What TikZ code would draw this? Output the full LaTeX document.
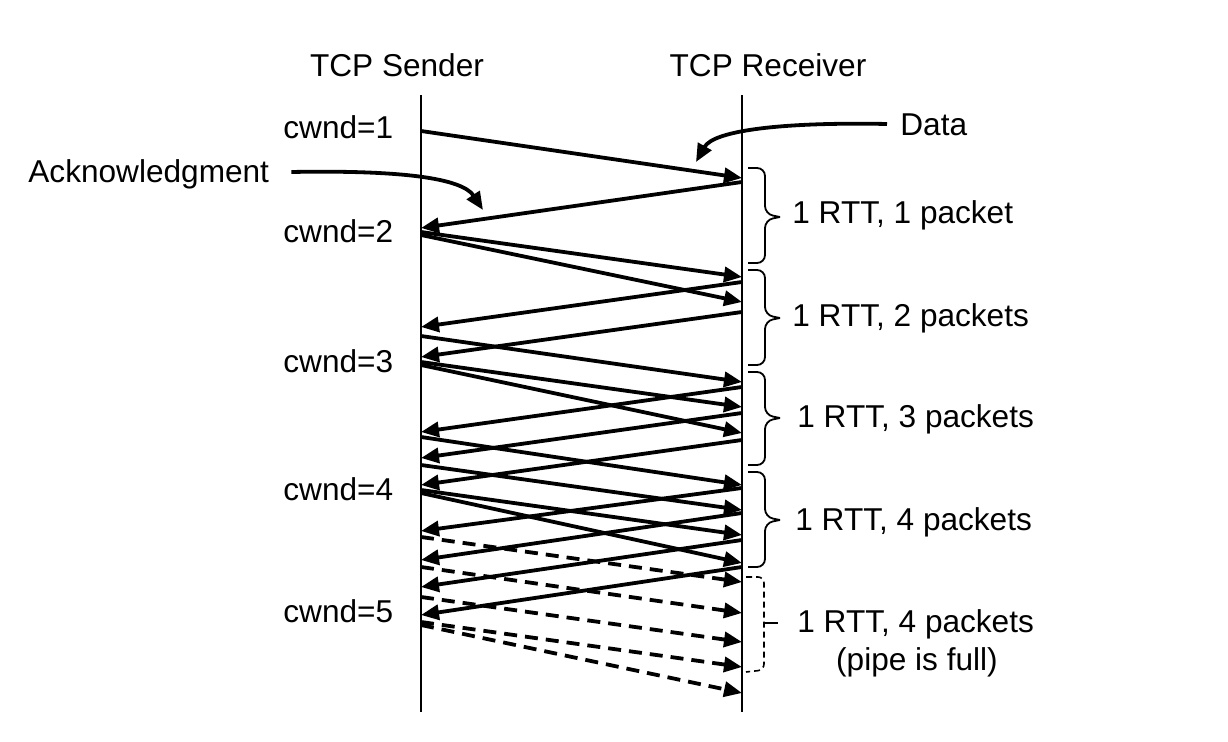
\documentclass[tikz,border=0pt]{standalone}
\usepackage{fontspec}
\setmainfont{Liberation Sans}
\usetikzlibrary{arrows.meta}
\begin{document}
\begin{tikzpicture}[x=0.5pt,y=-0.5pt,
  lifeline/.style={line width=1.2pt},
  msg/.style={line width=1.9pt,-{Triangle[length=9pt,width=7.5pt]}},
  dmsg/.style={msg,dash pattern=on 6.5pt off 4pt},
  curv/.style={line width=1.9pt,-{Triangle[length=9pt,width=7.5pt]}},
  lbl/.style={font=\fontsize{15.8}{18}\selectfont,inner sep=0pt},
  brc/.style={line width=0.9pt,rounded corners=4pt},
  dbrc/.style={line width=0.8pt,dash pattern=on 3pt off 2pt,rounded corners=3pt}]
\useasboundingbox (0,0) rectangle (1228,742);
\fill[white] (0,0) rectangle (1228,742);

% headers
\node[lbl,anchor=base] (snd) at (397,77) {TCP Sender};
\node[lbl,anchor=base] (rcv) at (768,77) {TCP Receiver};

% lifelines
\coordinate (stop) at (421,95);
\coordinate (sbot) at (421,712);
\coordinate (rtop) at (742,95);
\coordinate (rbot) at (742,712);
\draw[lifeline] (stop) -- (sbot);
\draw[lifeline] (rtop) -- (rbot);

% cwnd labels
\node[lbl,anchor=base west] (c1) at (283,139) {cwnd=1};
\node[lbl,anchor=base west] (c2) at (283,243) {cwnd=2};
\node[lbl,anchor=base west] (c3) at (283,373) {cwnd=3};
\node[lbl,anchor=base west] (c4) at (283,501) {cwnd=4};
\node[lbl,anchor=base west] (c5) at (283,623) {cwnd=5};

% data packets (sender -> receiver)
\foreach \a/\b in {131/178,232/277,235/302,336/382,362/407,365/433,437/485,465/510,490/535,493/563}{
  \coordinate (S\a) at (421,\a);
  \coordinate (R\b) at (742,\b);
  \draw[msg] (S\a) -- (R\b);
}
% acknowledgments (receiver -> sender)
\foreach \a/\b in {182/228,282/327,312/357,387/432,413/458,440/485,488/531,513/560,540/587,567/615}{
  \coordinate (R\a) at (742,\a);
  \coordinate (S\b) at (421,\b);
  \draw[msg] (R\a) -- (S\b);
}
% dashed data packets
\foreach \a/\b in {537/582,567/613,597/642,622/667,625/693}{
  \coordinate (S\a) at (421,\a);
  \coordinate (R\b) at (742,\b);
  \draw[dmsg] (S\a) -- (R\b);
}

% annotations
\node[lbl,anchor=base west] (ack) at (28,183) {Acknowledgment};
\coordinate (ackTip) at (483,210);
\draw[curv] ([xshift=11pt]ack.east |- 0,172) .. controls (400,170) and (462,178) .. (ackTip);

\node[lbl,anchor=base west] (data) at (900,136) {Data};
\coordinate (dataTip) at (696,162);
\draw[curv] ([xshift=-6.5pt]data.west |- 0,124) .. controls (785,122) and (714,130) .. (dataTip);

% braces
\foreach \t/\m/\b [count=\i] in {168/217/263,270/318/365,372/418/465,472/520/567}{
  \coordinate (bt\i) at (748,\t);
  \coordinate (bm\i) at (780,\m);
  \coordinate (bb\i) at (748,\b);
  \draw[brc] (bt\i) -- (765,\t) -- (765,\m-3) -- (bm\i |- 0,\m);
  \draw[brc] (bb\i) -- (765,\b) -- (765,\m+3) -- (bm\i |- 0,\m);
}
\coordinate (b5t) at (746,577); \coordinate (b5b) at (746,672);
\draw[dbrc] (b5t) -- (764,577) -- (764,670) -- (b5b);
\coordinate (b5m) at (763,623); \coordinate (b5k) at (778,623);
\draw[line width=0.8pt] (b5m) -- (b5k);

\node[lbl,anchor=base west] (r1) at (792,224) {1 RTT, 1 packet};
\node[lbl,anchor=base west] (r2) at (792,327) {1 RTT, 2 packets};
\node[lbl,anchor=base west] (r3) at (797,428) {1 RTT, 3 packets};
\node[lbl,anchor=base west] (r4) at (795,531) {1 RTT, 4 packets};
\node[lbl,anchor=base west] (r5) at (797,633) {1 RTT, 4 packets};
\node[lbl,anchor=base] (r5b) at (917,671) {(pipe is full)};
\end{tikzpicture}
\end{document}
